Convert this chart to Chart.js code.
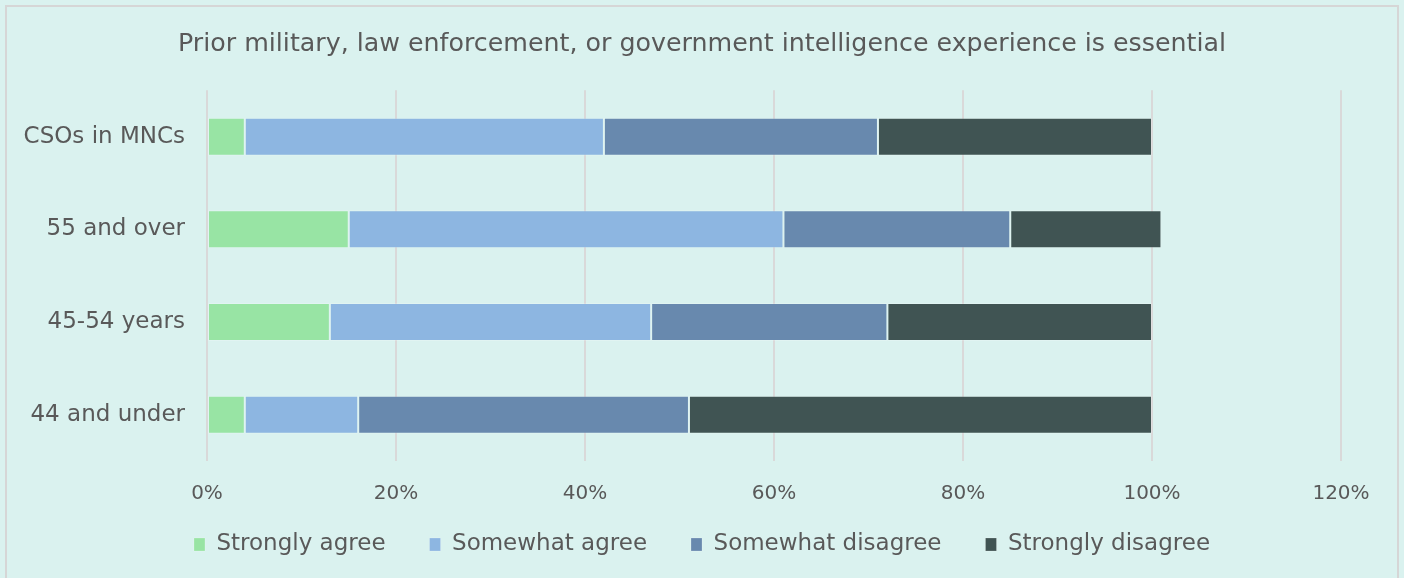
<!DOCTYPE html>
<html>
<head>
<meta charset="utf-8">
<script src="https://cdn.jsdelivr.net/npm/chart.js@4"></script>
<style>
  html, body { margin: 0; padding: 0; background: #DAF2EF; }
  #wrap { width: 1404px; height: 578px; }
</style>
</head>
<body>
<div id="wrap"><canvas id="myChart"></canvas></div>
<script>
//categories on the y axis
let groups = ['CSOs in MNCs', '55 and over', '45-54 years', '44 and under'];
//answer shares in percent per group
let stronglyAgree = [4, 15, 13, 4];
let somewhatAgree = [38, 46, 34, 12];
let somewhatDisagree = [29, 24, 25, 35];
let stronglyDisagree = [29, 16, 28, 49];
//colours for the four answers
let colors = ['#98E4A4', '#8DB6E1', '#6889AE', '#405453'];
let seriesNames = ['Strongly agree', 'Somewhat agree', 'Somewhat disagree', 'Strongly disagree'];
let seriesData = [stronglyAgree, somewhatAgree, somewhatDisagree, stronglyDisagree];

let font = "'DejaVu Sans', sans-serif";
let textColor = '#595959';

//page background and the grey frame
const frame = {
    id: 'frame',
    beforeDraw(chart) {
        const ctx = chart.ctx;
        ctx.save();
        ctx.fillStyle = '#DAF2EF';
        ctx.fillRect(0, 0, chart.width, chart.height);
        ctx.strokeStyle = '#D6D6D6';
        ctx.lineWidth = 2;
        ctx.strokeRect(6, 6, chart.width - 12, chart.height + 20);
        ctx.restore();
    }
};

//centre title and legend on the whole canvas, pull the legend up under the axis
const placeBlocks = {
    id: 'placeBlocks',
    afterLayout(chart) {
        const t = chart.titleBlock, l = chart.legend;
        t.left = 0; t.right = chart.width; t.width = chart.width;
        l.left = 0; l.right = chart.width; l.width = chart.width;
        l.top -= 22; l.bottom -= 22;
    }
};

let datasets = seriesData.map((d, i) => ({
    label: seriesNames[i],
    data: d,
    backgroundColor: colors[i],
    borderColor: 'rgba(255,255,255,0.2)',
    borderWidth: 1,
    borderSkipped: false,
    barPercentage: 0.41,
    categoryPercentage: 1
}));

let myChart = new Chart(document.getElementById('myChart'), {
    type: 'bar',
    data: { labels: groups, datasets: datasets },
    plugins: [frame, placeBlocks],
    options: {
        indexAxis: 'y',
        responsive: true,
        maintainAspectRatio: false,
        animation: false,
        layout: { padding: { left: 1, right: 63, top: 0, bottom: -10 } },
        scales: {
            x: {
                stacked: true,
                min: 0,
                max: 120,
                ticks: {
                    stepSize: 20,
                    callback: v => v + '%',
                    color: textColor,
                    font: { family: font, size: 20 },
                    padding: 21
                },
                grid: { color: '#D9D9D9', lineWidth: 2, drawTicks: false },
                border: { display: false },
                afterFit: scale => { scale.height = 50; }
            },
            y: {
                stacked: true,
                ticks: {
                    color: textColor,
                    font: { family: font, size: 23 },
                    padding: 22
                },
                grid: { display: false, drawTicks: false },
                border: { display: false },
                afterFit: scale => { scale.width = 206; }
            }
        },
        plugins: {
            title: {
                display: true,
                text: 'Prior military, law enforcement, or government intelligence experience is essential',
                color: textColor,
                font: { family: font, size: 25.3, weight: 'normal' },
                padding: { top: 29, bottom: 31 }
            },
            legend: {
                position: 'bottom',
                labels: {
                    color: textColor,
                    font: { family: font, size: 23 },
                    boxWidth: 11,
                    boxHeight: 13,
                    padding: 44
                }
            },
            tooltip: { enabled: false }
        }
    }
});
</script>
</body>
</html>
